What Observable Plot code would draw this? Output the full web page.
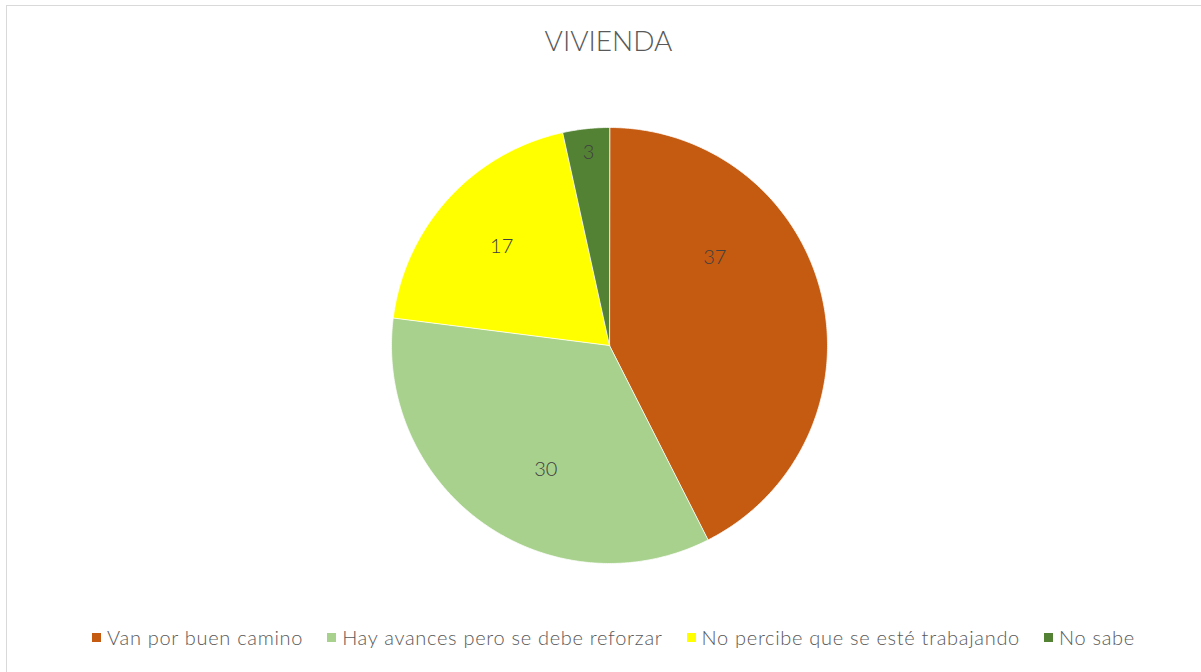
<!DOCTYPE html>
<html>
<head>
<meta charset="utf-8">
<script src="https://cdn.jsdelivr.net/npm/d3@7"></script>
<script src="https://cdn.jsdelivr.net/npm/@observablehq/plot@0.6"></script>
<style>
  html, body { margin: 0; padding: 0; background: #fff; }
  #wrap { position: relative; width: 1201px; height: 672px; overflow: hidden; font-family: Lato, "Noto Sans", sans-serif; color: #595959; }
  #frame { position: absolute; left: 6px; top: 5px; width: 1200px; height: 670px; border: 1px solid #d9d9d9; box-sizing: border-box; }
  #title { position: absolute; left: 8px; width: 1201px; top: 22px; text-align: center; font-size: 28px; font-weight: 300; letter-spacing: 0px; line-height: 36px; }
  #chart { position: absolute; left: 0; top: 90px; }
  #legend { position: absolute; left: 0; width: 1227px; top: 625px; display: flex; justify-content: center; gap: 24px; font-size: 20px; letter-spacing: 0.7px; font-weight: 300; line-height: 24px; }
  .item { display: flex; align-items: center; white-space: nowrap; }
  .sw { width: 9px; height: 9px; margin-right: 6px; }
</style>
</head>
<body>
<div id="wrap">
  <div id="frame"></div>
  <div id="title">VIVIENDA</div>
  <div id="chart"></div>
  <div id="legend"></div>
</div>
<script>
const categories = ["Van por buen camino", "Hay avances pero se debe reforzar", "No percibe que se esté trabajando", "No sabe"];
const values = [37, 30, 17, 3];
const colors = ["#C55A11", "#A9D18E", "#FFFF00", "#548235"];

// label placement (layout, relative to slice)
const labelRadius = [0.63, 0.64, 0.67, 0.89];
const labelAngleShift = [-26.5, -8, 0, 0];

const arcs = d3.pie().sort(null)(values);
const pt = (a, r = 1) => [r * Math.sin(a), -r * Math.cos(a)];

const slices = arcs.map((a, i) => {
  const n = Math.max(2, Math.ceil((a.endAngle - a.startAngle) / (Math.PI / 360)));
  const ring = [[0, 0]];
  for (let k = 0; k <= n; k++) ring.push(pt(a.startAngle + (a.endAngle - a.startAngle) * k / n));
  ring.push([0, 0]);
  return {type: "Feature", properties: {cat: categories[i]}, geometry: {type: "Polygon", coordinates: [ring]}};
});

const labels = arcs.map((a, i) => {
  const mid = (a.startAngle + a.endAngle) / 2 + labelAngleShift[i] * Math.PI / 180;
  const [x, y] = pt(mid, labelRadius[i]);
  return {x, y, text: String(values[i])};
});

const chart = Plot.plot({
  width: 1201,
  height: 510,
  marginLeft: 391,
  marginRight: 374,
  marginTop: 37,
  marginBottom: 37,
  projection: {type: "identity", domain: {type: "MultiPoint", coordinates: [[-1, -1], [1, 1]]}},
  color: {domain: categories, range: colors},
  style: {background: "transparent", fontFamily: "Lato, 'Noto Sans', sans-serif"},
  marks: [
    Plot.geo(slices, {fill: d => d.properties.cat, stroke: "#fff", strokeWidth: 0.75}),
    Plot.text(labels, {x: "x", y: "y", text: "text", fontSize: 20, fontWeight: 300, fill: "#404040"})
  ]
});
document.getElementById("chart").appendChild(chart);

const legend = document.getElementById("legend");
categories.forEach((c, i) => {
  const it = document.createElement("div");
  it.className = "item";
  const sw = document.createElement("div");
  sw.className = "sw";
  sw.style.background = colors[i];
  const t = document.createElement("span");
  t.textContent = c;
  it.appendChild(sw); it.appendChild(t);
  legend.appendChild(it);
});
</script>
</body>
</html>
